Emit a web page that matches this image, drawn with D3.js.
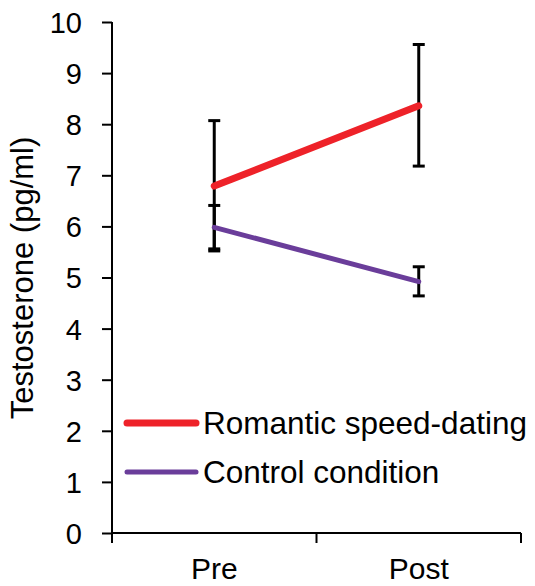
<!DOCTYPE html>
<html>
<head>
<meta charset="utf-8">
<script src="https://cdn.jsdelivr.net/npm/d3@7"></script>
<style>
  body { margin: 0; background: #fff; }
  text { font-family: "Liberation Sans", Arial, sans-serif; fill: #000; }
</style>
</head>
<body>
<script>
// data
var phases = ["Pre", "Post"];
var seriesNames = ["Romantic speed-dating", "Control condition"];
var seriesColors = ["#ee2229", "#6a3d9a"];
var romanticMean = [6.79, 8.36];
var romanticLow = [5.52, 7.18];
var romanticHigh = [8.07, 9.56];
var controlMean = [5.98, 4.92];
var controlLow = [5.56, 4.64];
var controlHigh = [6.41, 5.21];
var yTicks = [0, 1, 2, 3, 4, 5, 6, 7, 8, 9, 10];

var series = [
  { name: seriesNames[0], color: seriesColors[0], width: 7, mean: romanticMean, low: romanticLow, high: romanticHigh },
  { name: seriesNames[1], color: seriesColors[1], width: 5, mean: controlMean, low: controlLow, high: controlHigh }
];

var margin = {top: 22, right: 14, bottom: 53, left: 112},
    width = 535 - margin.left - margin.right,
    height = 586 - margin.top - margin.bottom;

var svg = d3.select("body").append("svg")
    .attr("width", 535)
    .attr("height", 586),
  g = svg.append("g")
    .attr("transform", "translate(" + margin.left + "," + margin.top + ")");

var x = d3.scaleBand().domain(phases).range([0, width]);
var y = d3.scaleLinear().domain([0, 10]).range([height, 0]);

// y axis
var yAxis = g.append("g")
    .call(d3.axisLeft(y).tickValues(yTicks).tickSize(10).tickPadding(20).tickFormat(d3.format("d")));
yAxis.selectAll("text").style("font-size", "29px").attr("dy", "0.36em");
yAxis.selectAll("line, path").attr("stroke", "#000").attr("stroke-width", 2);
yAxis.select(".domain").attr("d", "M0," + height + "V0");

// x axis, ticks at band edges
var xAxis = g.append("g")
    .attr("transform", "translate(0," + height + ")");
xAxis.append("line")
    .attr("x1", 0).attr("x2", width)
    .attr("stroke", "#000").attr("stroke-width", 2);
var edges = [0].concat(phases.map(function(p) { return x(p) + x.bandwidth(); }));
xAxis.selectAll(".edge").data(edges).enter().append("line")
    .attr("class", "edge")
    .attr("x1", function(d) { return d; }).attr("x2", function(d) { return d; })
    .attr("y1", 0).attr("y2", 10)
    .attr("stroke", "#000").attr("stroke-width", 2);
xAxis.selectAll(".lab").data(phases).enter().append("text")
    .attr("class", "lab")
    .attr("x", function(d) { return x(d) + x.bandwidth() / 2; })
    .attr("y", 46)
    .attr("text-anchor", "middle")
    .style("font-size", "30px")
    .text(function(d) { return d; });

// y title
svg.append("text")
    .attr("transform", "translate(33,278) rotate(-90)")
    .attr("text-anchor", "middle")
    .style("font-size", "31px")
    .text("Testosterone (pg/ml)");

var cx = function(i) { return x(phases[i]) + x.bandwidth() / 2; };

// error bars
series.forEach(function(s) {
  var eb = g.append("g");
  phases.forEach(function(p, i) {
    eb.append("line")
      .attr("x1", cx(i)).attr("x2", cx(i))
      .attr("y1", y(s.low[i])).attr("y2", y(s.high[i]))
      .attr("stroke", "#000").attr("stroke-width", 3);
    [s.low[i], s.high[i]].forEach(function(v) {
      eb.append("line")
        .attr("x1", cx(i) - 6).attr("x2", cx(i) + 6)
        .attr("y1", y(v)).attr("y2", y(v))
        .attr("stroke", "#000").attr("stroke-width", 3);
    });
  });
});

// lines
var line = d3.line()
    .x(function(d, i) { return cx(i); })
    .y(function(d) { return y(d); });

series.forEach(function(s) {
  g.append("path")
    .attr("d", line(s.mean))
    .attr("fill", "none")
    .attr("stroke", s.color)
    .attr("stroke-width", s.width)
    .attr("stroke-linecap", "round");
});

// legend
var legend = svg.append("g");
series.forEach(function(s, i) {
  var ly = 423 + i * 49;
  legend.append("line")
    .attr("x1", 127).attr("x2", 196)
    .attr("y1", ly).attr("y2", ly)
    .attr("stroke", s.color)
    .attr("stroke-width", s.width)
    .attr("stroke-linecap", "round");
  legend.append("text")
    .attr("x", 203).attr("y", ly + 11)
    .style("font-size", "31.5px")
    .text(s.name);
});
</script>
</body>
</html>
